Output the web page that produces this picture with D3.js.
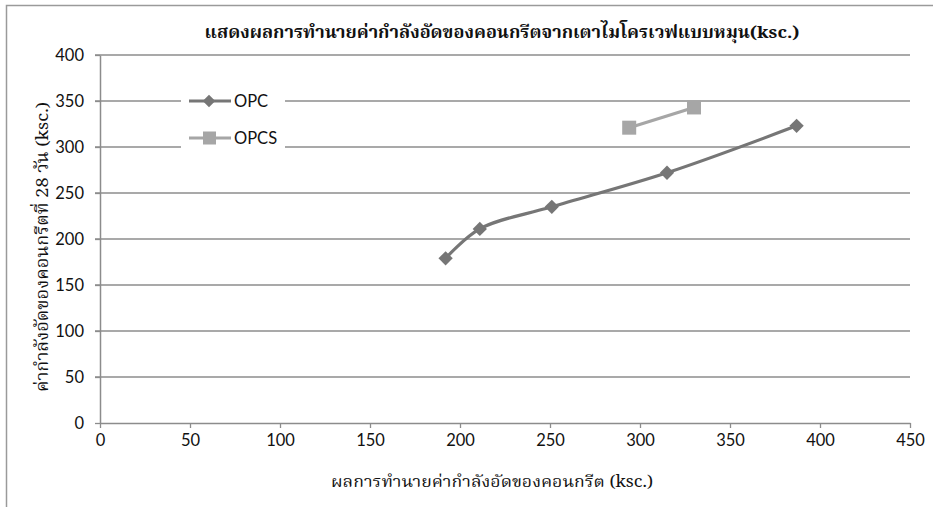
<!DOCTYPE html>
<html><head><meta charset="utf-8">
<script src="https://cdn.jsdelivr.net/npm/d3@7"></script>
<style>body{margin:0;background:#fff}svg{display:block}</style>
</head><body><svg id="c" width="933" height="507"></svg>
<script>
const title = "แสดงผลการทำนายค่ากำลังอัดของคอนกรีตจากเตาไมโครเวฟแบบหมุน(ksc.)";
const xTitle = "ผลการทำนายค่ากำลังอัดของคอนกรีต (ksc.)";
const yTitle = "ค่ากำลังอัดของคอนกรีตที่ 28 วัน (ksc.)";
const seriesNames = ["OPC", "OPCS"];
const opcX = [192, 211, 251, 315, 387];
const opcY = [179, 211, 235, 272, 323];
const opcsX = [294, 330];
const opcsY = [321, 343];
const xTicks = [0, 50, 100, 150, 200, 250, 300, 350, 400, 450];
const yTicks = [0, 50, 100, 150, 200, 250, 300, 350, 400];

const svg = d3.select("#c");
const thaiFont = "'Noto Serif Thai','Noto Sans Thai','Liberation Serif','DejaVu Serif',serif";
const tickFont = "Lato, 'Open Sans', sans-serif";
const x = d3.scaleLinear().domain([0, 450]).range([100, 910]);
const y = d3.scaleLinear().domain([0, 400]).range([423, 55]);

// frame
svg.append("path").attr("d", "M6.5,507 V5.5 H933").attr("fill", "none").attr("stroke", "#9a9a9a").attr("stroke-width", 1.5);

// gridlines
svg.append("g").selectAll("line").data(yTicks.filter(d => d > 0)).join("line")
  .attr("x1", 95).attr("x2", 910).attr("y1", d => y(d)).attr("y2", d => y(d))
  .attr("stroke", "#8c8c8c").attr("stroke-width", 1.3);

// axes
const xAxis = svg.append("g").attr("transform", "translate(0,423)")
  .call(d3.axisBottom(x).tickValues(xTicks).tickSize(5).tickPadding(6).tickSizeOuter(0));
const yAxis = svg.append("g").attr("transform", "translate(100,0)")
  .call(d3.axisLeft(y).tickValues(yTicks).tickSize(5).tickPadding(11).tickSizeOuter(0));
[xAxis, yAxis].forEach(a => {
  a.select(".domain").attr("stroke", "#8c8c8c").attr("stroke-width", 1.5);
  a.selectAll(".tick line").attr("stroke", "#8c8c8c").attr("stroke-width", 1.3);
  a.selectAll("text").attr("font-family", tickFont).attr("font-size", 16.5).attr("fill", "#111");
});

// data
const opc = opcX.map((v, i) => [v, opcY[i]]);
const opcs = opcsX.map((v, i) => [v, opcsY[i]]);
const line = d3.line().x(d => x(d[0])).y(d => y(d[1])).curve(d3.curveCatmullRom.alpha(0.5));
svg.append("path").attr("d", line(opc)).attr("fill", "none").attr("stroke", "#767676").attr("stroke-width", 3.2);
svg.append("path").attr("d", d3.line().x(d => x(d[0])).y(d => y(d[1]))(opcs)).attr("fill", "none").attr("stroke", "#a6a6a6").attr("stroke-width", 3.2);
const diamond = d3.symbol().type(d3.symbolDiamond2).size(130);
svg.append("g").selectAll("path").data(opc).join("path")
  .attr("d", diamond).attr("transform", d => `translate(${x(d[0])},${y(d[1])})`)
  .attr("fill", "#767676");
svg.append("g").selectAll("rect").data(opcs).join("rect")
  .attr("x", d => x(d[0]) - 7).attr("y", d => y(d[1]) - 7).attr("width", 14).attr("height", 14)
  .attr("fill", "#a6a6a6");

// legend
const lg = svg.append("g");
lg.append("rect").attr("x", 181).attr("y", 84).attr("width", 104).attr("height", 70).attr("fill", "#fff");
const ly = [101, 138];
const lcol = ["#767676", "#a6a6a6"];
seriesNames.forEach((n, i) => {
  lg.append("line").attr("x1", 189).attr("x2", 231).attr("y1", ly[i]).attr("y2", ly[i]).attr("stroke", lcol[i]).attr("stroke-width", 3.2);
  if (i === 0) lg.append("path").attr("d", d3.symbol().type(d3.symbolDiamond2).size(100)).attr("transform", `translate(209,${ly[i]})`).attr("fill", lcol[i]);
  else lg.append("rect").attr("x", 203).attr("y", ly[i] - 6.5).attr("width", 13).attr("height", 13).attr("fill", lcol[i]);
  lg.append("text").attr("x", 234).attr("y", ly[i] + 6).text(n).attr("font-family", tickFont).attr("font-size", 16.5).attr("fill", "#111");
});

// titles
svg.append("text").attr("x", 502).attr("y", 38).attr("text-anchor", "middle").attr("font-family", thaiFont)
  .attr("font-weight", "bold").attr("font-size", 17).attr("fill", "#111")
  .attr("textLength", 595).attr("lengthAdjust", "spacingAndGlyphs").text(title);
svg.append("text").attr("x", 492).attr("y", 487).attr("text-anchor", "middle").attr("font-family", thaiFont)
  .attr("font-size", 16).attr("fill", "#111")
  .attr("textLength", 322).attr("lengthAdjust", "spacingAndGlyphs").text(xTitle);
svg.append("text").attr("transform", "translate(48,247) rotate(-90)").attr("text-anchor", "middle").attr("font-family", thaiFont)
  .attr("font-size", 17).attr("fill", "#111")
  .attr("textLength", 290).attr("lengthAdjust", "spacingAndGlyphs").text(yTitle);
</script></body></html>
